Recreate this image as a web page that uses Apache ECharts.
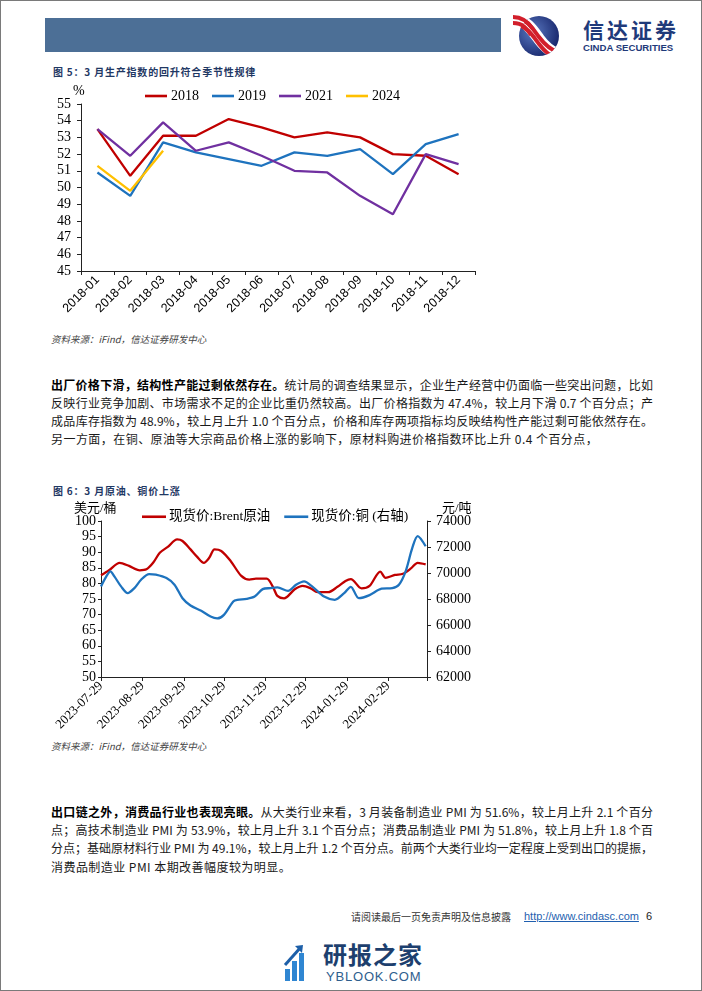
<!DOCTYPE html>
<html><head><meta charset="utf-8">
<script src="https://cdn.jsdelivr.net/npm/echarts@6/dist/echarts.min.js"></script>
<style>
html,body{margin:0;padding:0;background:#fff;}
#page{position:relative;width:702px;height:991px;box-sizing:border-box;border:1px solid #7a7a7a;overflow:hidden;font-family:"Noto Sans CJK SC",sans-serif;background:#fff;}
.abs{position:absolute;}
.bar{left:44px;top:17px;width:456px;height:34px;background:#4C6F96;}
.title{left:52px;font-size:10px;line-height:14px;font-weight:bold;color:#1F3864;letter-spacing:0.8px;white-space:nowrap;}
.src{left:50px;font-size:9.5px;line-height:12px;font-style:italic;color:#444;white-space:nowrap;}
.line{left:50px;width:602px;font-size:12px;color:#1a1a1a;height:18px;line-height:18px;text-align:justify;text-align-last:justify;}
.last{text-align:left;text-align-last:left;letter-spacing:0.45px;}
.line b{font-weight:bold;color:#000;}
</style></head>
<body>
<div id="page">
  <div class="abs bar"></div>
  <svg class="abs" style="left:512px;top:12px" width="50" height="46" viewBox="0 0 50 46">
    <defs>
      <radialGradient id="gb" cx="0.35" cy="0.4" r="0.7">
        <stop offset="0" stop-color="#5a78c0"/><stop offset="1" stop-color="#15246a"/>
      </radialGradient>
      <clipPath id="cc"><circle cx="26" cy="23" r="20"/></clipPath>
    </defs>
    <circle cx="26" cy="23" r="20" fill="url(#gb)"/>
    <g clip-path="url(#cc)" fill="none">
      <path d="M2 6 C14 8 20 18 26 26 C32 34 38 40 48 42" stroke="#fff" stroke-width="12"/>
      <path d="M2 4 C14 6 20 16 26 24 C32 32 38 38 48 40" stroke="#d21f2b" stroke-width="4"/>
      <path d="M2 11 C14 13 20 23 26 31 C32 39 38 45 48 47" stroke="#d21f2b" stroke-width="4"/>
    </g>
    <path d="M0 4 C10 4 16 10 20 16" stroke="#d21f2b" stroke-width="4" fill="none"/>
    <path d="M0 10 C10 10 14 16 18 22" stroke="#d21f2b" stroke-width="4" fill="none"/>
  </svg>
  <div class="abs" style="left:582px;top:16px;font-size:21px;line-height:24px;font-weight:bold;color:#1F3A7A;letter-spacing:3px;white-space:nowrap;">信达证券</div>
  <div class="abs" style="left:582px;top:42px;font-size:9.6px;line-height:10px;font-weight:bold;color:#1F3A7A;font-family:'Liberation Sans',Arial,sans-serif;white-space:nowrap;">CINDA SECURITIES</div>

  <div class="abs title" style="top:64px;">图 5：3 月生产指数的回升符合季节性规律</div>
  <div id="c1" class="abs" style="left:40px;top:78px;width:460px;height:245px;"></div>
  <div class="abs src" style="top:332px;">资料来源：iFind，信达证券研发中心</div>

  <div class="abs line" style="top:375px;"><b>出厂价格下滑，结构性产能过剩依然存在。</b>统计局的调查结果显示，企业生产经营中仍面临一些突出问题，比如</div>
  <div class="abs line" style="top:393px;">反映行业竞争加剧、市场需求不足的企业比重仍然较高。出厂价格指数为 47.4%，较上月下滑 0.7 个百分点；产</div>
  <div class="abs line" style="top:411px;">成品库存指数为 48.9%，较上月上升 1.0 个百分点，价格和库存两项指标均反映结构性产能过剩可能依然存在。</div>
  <div class="abs line last" style="top:429px;">另一方面，在铜、原油等大宗商品价格上涨的影响下，原材料购进价格指数环比上升 0.4 个百分点，</div>

  <div class="abs title" style="top:483px;">图 6：3 月原油、铜价上涨</div>
  <div id="c2" class="abs" style="left:40px;top:495px;width:480px;height:240px;"></div>
  <div class="abs src" style="top:739px;">资料来源：iFind，信达证券研发中心</div>

  <div class="abs line" style="top:802px;"><b>出口链之外，消费品行业也表现亮眼。</b>从大类行业来看，3 月装备制造业 PMI 为 51.6%，较上月上升 2.1 个百分</div>
  <div class="abs line" style="top:820px;">点；高技术制造业 PMI 为 53.9%，较上月上升 3.1 个百分点；消费品制造业 PMI 为 51.8%，较上月上升 1.8 个百</div>
  <div class="abs line" style="top:838px;">分点；基础原材料行业 PMI 为 49.1%，较上月上升 1.2 个百分点。前两个大类行业均一定程度上受到出口的提振，</div>
  <div class="abs line last" style="top:857px;">消费品制造业 PMI 本期改善幅度较为明显。</div>

  <div class="abs" style="left:350px;top:909px;font-size:10px;line-height:14px;color:#333;white-space:nowrap;">请阅读最后一页免责声明及信息披露</div>
  <div class="abs" style="left:523px;top:908px;font-size:11px;line-height:15px;color:#1F5FAF;text-decoration:underline;font-family:'Liberation Sans',Arial,sans-serif;white-space:nowrap;">http://www.cindasc.com</div>
  <div class="abs" style="left:645px;top:908px;font-size:11px;line-height:15px;color:#222;font-family:'Liberation Sans',Arial,sans-serif;">6</div>

  <svg class="abs" style="left:282px;top:942px" width="26" height="40" viewBox="0 0 26 40">
    <rect x="2" y="26" width="5" height="12" fill="#2F86D2"/>
    <rect x="9" y="18" width="5" height="20" fill="#2F86D2"/>
    <rect x="16" y="10" width="5" height="28" fill="#2F86D2"/>
    <path d="M2 22 L18 4" stroke="#1D5FA8" stroke-width="3" fill="none"/>
    <path d="M12 3 L20 2 L19 10 Z" fill="#1D5FA8"/>
  </svg>
  <div class="abs" style="left:322px;top:939px;font-size:24px;line-height:28px;font-weight:bold;color:#1D3F6E;white-space:nowrap;letter-spacing:1px;">研报之家</div>
  <div class="abs" style="left:325px;top:969px;font-size:13px;line-height:14px;color:#2F5E8E;font-family:'Liberation Sans',Arial,sans-serif;white-space:nowrap;letter-spacing:0.8px;">YBLOOK.COM</div>
</div>
<script>
// ---------- Chart 1 data ----------
const months = ['2018-01','2018-02','2018-03','2018-04','2018-05','2018-06','2018-07','2018-08','2018-09','2018-10','2018-11','2018-12'];
const pmi2018 = [53.5,50.7,53.1,53.1,54.1,53.6,53.0,53.3,53.0,52.0,51.9,50.8];
const pmi2019 = [50.9,49.5,52.7,52.1,51.7,51.3,52.1,51.9,52.3,50.8,52.6,53.2];
const pmi2021 = [53.5,51.9,53.9,52.2,52.7,51.9,51.0,50.9,49.5,48.4,52.0,51.4];
const pmi2024 = [51.3,49.8,52.2];
const seriesNames1 = ['2018','2019','2021','2024'];

// ---------- Chart 2 data ----------
const brentDates = ['2023-07-29','2023-08-04','2023-08-12','2023-08-19','2023-08-27','2023-09-01','2023-09-06','2023-09-11','2023-09-17','2023-09-24','2023-09-28','2023-10-04','2023-10-09','2023-10-14','2023-10-18','2023-10-22','2023-10-27','2023-11-03','2023-11-11','2023-11-17','2023-11-22','2023-11-30','2023-12-05','2023-12-08','2023-12-13','2023-12-21','2023-12-27','2024-01-02','2024-01-07','2024-01-15','2024-01-22','2024-01-28','2024-02-01','2024-02-09','2024-02-15','2024-02-23','2024-02-27','2024-03-05','2024-03-11','2024-03-17','2024-03-22','2024-03-28'];
const brentVals = [82.6,84.2,86.6,85.6,84.2,84.5,86.6,89.8,91.7,94.1,93.6,90.9,88.5,86.6,88.2,90.9,90.4,87.2,82.4,81.2,81.5,81.5,78.6,76.0,75.2,78.1,79.2,78.4,77.2,77.2,78.9,80.8,81.4,78.4,79.2,83.8,81.8,82.7,83.1,84.8,86.6,86.1];
const copperDates = ['2023-07-29','2023-08-02','2023-08-05','2023-08-08','2023-08-13','2023-08-18','2023-08-23','2023-08-28','2023-09-03','2023-09-08','2023-09-16','2023-09-22','2023-09-28','2023-10-04','2023-10-12','2023-10-19','2023-10-24','2023-10-29','2023-11-05','2023-11-08','2023-11-15','2023-11-21','2023-11-27','2023-12-03','2023-12-08','2023-12-16','2023-12-22','2023-12-28','2024-01-03','2024-01-12','2024-01-20','2024-01-27','2024-02-01','2024-02-07','2024-02-15','2024-02-24','2024-03-03','2024-03-08','2024-03-13','2024-03-18','2024-03-22','2024-03-28'];
const copperVals = [68970,69740,70130,69740,68970,68450,68840,69480,69920,69870,69610,69100,68060,67500,67090,66650,66510,66780,67810,67940,68010,68190,68760,68840,68890,68630,69100,69360,68970,68190,67940,68450,68940,68060,68300,68790,68840,69100,70130,71930,72840,72060];
const xTickDates = ['2023-07-29','2023-08-29','2023-09-29','2023-10-29','2023-11-29','2023-12-29','2024-01-29','2024-02-29','2024-03-29'];
const xLabelDates = ['2023-07-29','2023-08-29','2023-09-29','2023-10-29','2023-11-29','2023-12-29','2024-01-29','2024-02-29'];
const seriesNames2 = ['现货价:Brent原油','现货价:铜 (右轴)'];

const RED='#C00000', BLUE='#1E73BE', PURPLE='#7030A0', YELLOW='#FFC000';
const SERIF = "'Liberation Serif','Times New Roman','Noto Sans CJK SC',serif";
const SANS = "'Liberation Sans',Arial,sans-serif";
const AX = '#222';

const c1 = echarts.init(document.getElementById('c1'), null, {renderer:'canvas'});
c1.setOption({
  animation:false,
  grid:{left:40, top:25, width:394, height:167},
  legend:{left:99, top:5, itemWidth:22, itemHeight:2.6, itemGap:13, icon:'rect',
    textStyle:{fontFamily:SERIF, fontSize:14, color:'#000', padding:[0,0,0,-1]},
    data:seriesNames1},
  graphic:[{type:'text', left:32, top:5, style:{text:'%', font:'14px '+SERIF, fill:'#000'}}],
  xAxis:{type:'category', data:months, boundaryGap:true,
    axisLine:{lineStyle:{color:AX, width:1}},
    axisTick:{show:true, length:4, interval:0, lineStyle:{color:AX}},
    axisLabel:{interval:0, rotate:45, margin:7, fontFamily:SANS, fontSize:12.5, color:'#000'},
    splitLine:{show:false}},
  yAxis:{type:'value', min:45, max:55, interval:1,
    axisLine:{show:true, lineStyle:{color:AX, width:1}},
    axisTick:{show:true, length:4, lineStyle:{color:AX}},
    axisLabel:{margin:10, fontFamily:SERIF, fontSize:14, color:'#000'},
    splitLine:{show:false}},
  series:[
    {name:'2018', type:'line', data:pmi2018, symbol:'none', lineStyle:{width:2.3, color:RED}, itemStyle:{color:RED}},
    {name:'2019', type:'line', data:pmi2019, symbol:'none', lineStyle:{width:2.3, color:BLUE}, itemStyle:{color:BLUE}},
    {name:'2021', type:'line', data:pmi2021, symbol:'none', lineStyle:{width:2.3, color:PURPLE}, itemStyle:{color:PURPLE}},
    {name:'2024', type:'line', data:pmi2024, symbol:'none', lineStyle:{width:2.3, color:YELLOW}, itemStyle:{color:YELLOW}}
  ]
});

function ts(s){ const p=s.split('-').map(Number); return Date.UTC(p[0],p[1]-1,p[2]); }
function fmt(v){ const d=new Date(v); const mm=String(d.getUTCMonth()+1).padStart(2,'0'); const dd=String(d.getUTCDate()).padStart(2,'0'); return d.getUTCFullYear()+'-'+mm+'-'+dd; }

const c2 = echarts.init(document.getElementById('c2'), null, {renderer:'canvas'});
c2.setOption({
  animation:false,
  grid:{left:60, top:25, width:326, height:156},
  legend:{left:96, top:9, itemWidth:24, itemHeight:2.6, itemGap:14, icon:'rect',
    textStyle:{fontFamily:SERIF, fontSize:13.5, color:'#000', padding:[0,0,0,-2]},
    data:seriesNames2},
  graphic:[
    {type:'text', left:33, top:6, style:{text:'美元/桶', font:'13px '+SERIF, fill:'#000'}},
    {type:'text', left:401, top:6, style:{text:'元/吨', font:'13px '+SERIF, fill:'#000'}}
  ],
  xAxis:{type:'value', min:ts(xTickDates[0]), max:ts(xTickDates[xTickDates.length-1]),
    axisLine:{lineStyle:{color:AX, width:1}},
    axisTick:{show:true, length:4, customValues:xTickDates.map(ts), lineStyle:{color:AX}},
    axisLabel:{customValues:xLabelDates.map(ts), rotate:45, margin:7, fontFamily:SERIF, fontSize:13, color:'#000',
      formatter:function(v){ return fmt(v); }},
    splitLine:{show:false}},
  yAxis:[
    {type:'value', min:50, max:100, interval:5,
      axisLine:{show:true, lineStyle:{color:AX, width:1}},
      axisTick:{show:true, length:3, lineStyle:{color:AX}},
      axisLabel:{margin:5, fontFamily:SERIF, fontSize:14, color:'#000'},
      splitLine:{show:false}},
    {type:'value', min:62000, max:74000, interval:2000, position:'right',
      axisLine:{show:true, lineStyle:{color:AX, width:1}},
      axisTick:{show:true, length:4, lineStyle:{color:AX}},
      axisLabel:{margin:9, fontFamily:SERIF, fontSize:14, color:'#000', formatter:function(v){ return String(v); }},
      splitLine:{show:false}}
  ],
  series:[
    {name:seriesNames2[0], type:'line', yAxisIndex:0, smooth:0.3, symbol:'none',
      data:brentDates.map((d,i)=>[ts(d), brentVals[i]]), lineStyle:{width:2.3, color:RED}, itemStyle:{color:RED}},
    {name:seriesNames2[1], type:'line', yAxisIndex:1, smooth:0.3, symbol:'none',
      data:copperDates.map((d,i)=>[ts(d), copperVals[i]]), lineStyle:{width:2.3, color:BLUE}, itemStyle:{color:BLUE}}
  ]
});
</script>
</body></html>
